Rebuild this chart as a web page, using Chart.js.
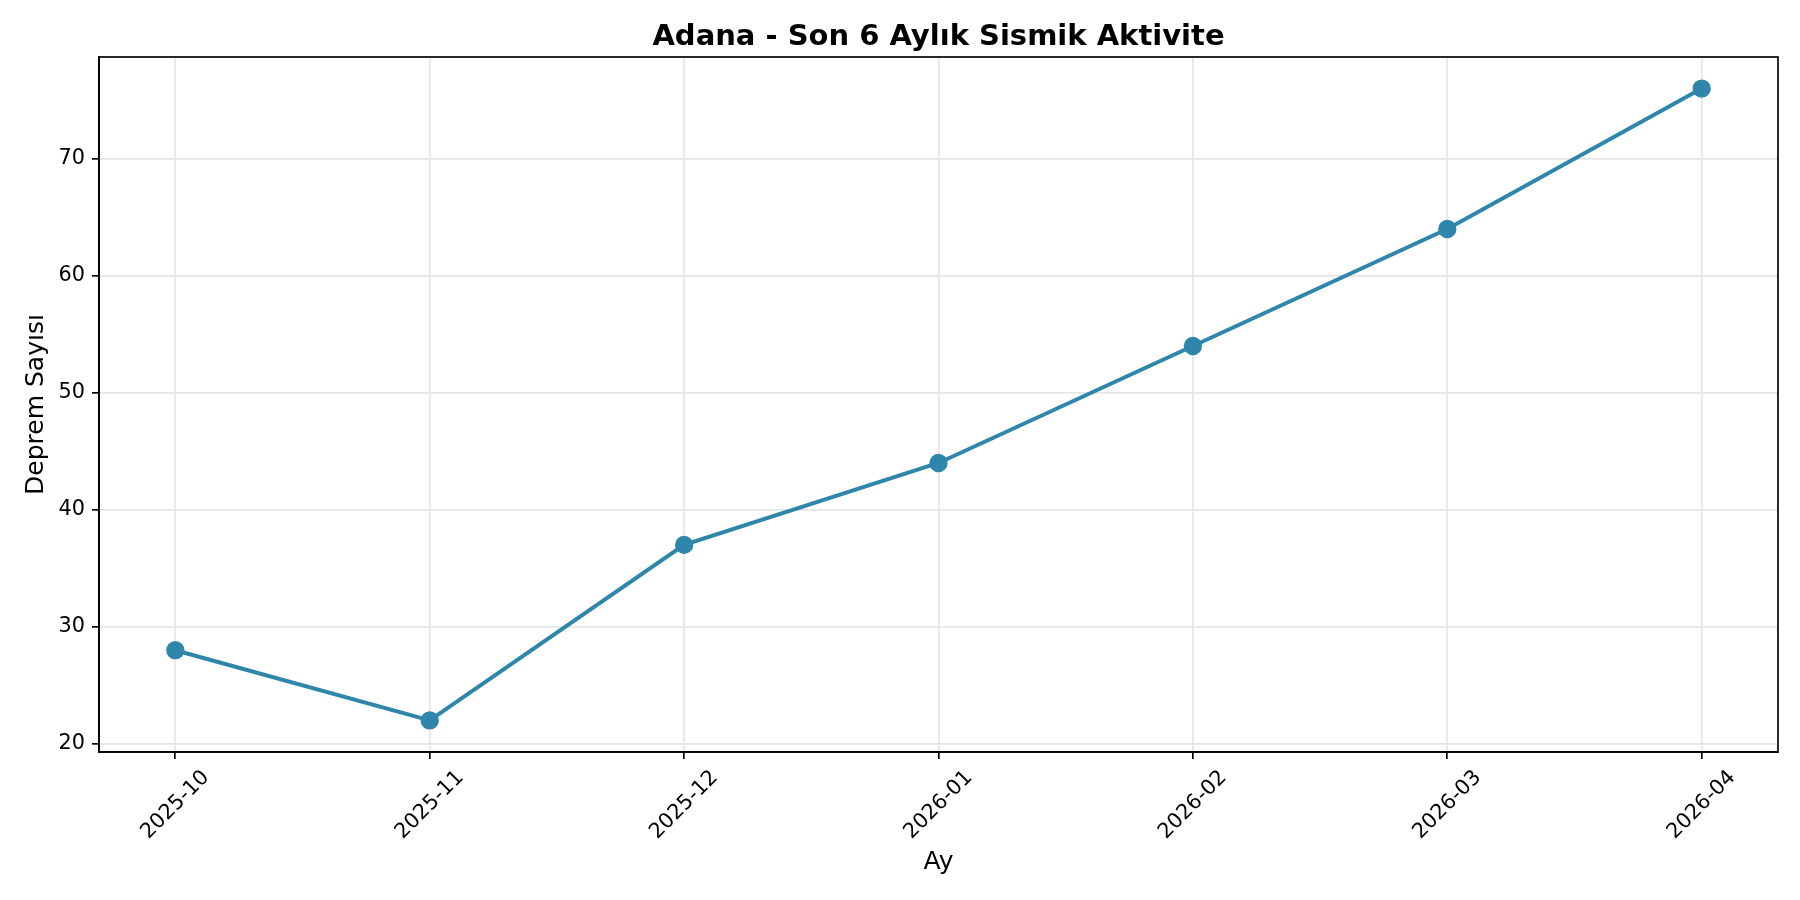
<!DOCTYPE html>
<html lang="tr">
<head>
    <meta charset="UTF-8">
    <title>Adana - Son 6 Aylık Sismik Aktivite</title>
    <style>
        body { margin: 0; background: #fff; }
        #chart { display: block; }
    </style>
</head>
<body>
    <canvas id="chart" width="1800" height="900"></canvas>
    <script src="https://cdn.jsdelivr.net/npm/chart.js"></script>
    <script>
        const months = ['2025-10', '2025-11', '2025-12', '2026-01', '2026-02', '2026-03', '2026-04'];
        const quakeCounts = [28, 22, 37, 44, 54, 64, 76];
        const yTicks = [20, 30, 40, 50, 60, 70];

        const titleText = 'Adana - Son 6 Aylık Sismik Aktivite';
        const xTitle = 'Ay';
        const yTitle = 'Deprem Sayısı';

        const lineColor = '#2E86AB';
        const font = "'DejaVu Sans', sans-serif";

        // matplotlib-style texts: title, axis labels, rotated month labels
        const textPlugin = {
            id: 'mplText',
            afterDraw(chart) {
                const c = chart.ctx;
                const area = chart.chartArea;
                const xs = chart.scales.x;
                const cx = (area.left + area.right) / 2;
                const cy = (area.top + area.bottom) / 2;

                c.save();
                // frame
                c.strokeStyle = '#000';
                c.lineWidth = 1.67;
                c.strokeRect(area.left, area.top, area.right - area.left, area.bottom - area.top);

                c.fillStyle = '#000';
                c.textAlign = 'center';
                c.textBaseline = 'alphabetic';
                c.font = 'bold 29px ' + font;
                c.fillText(titleText, cx, 45);

                c.font = '25px ' + font;
                c.fillText(xTitle, cx, 869);

                c.save();
                c.translate(43, cy);
                c.rotate(-Math.PI / 2);
                c.fillText(yTitle, 0, 0);
                c.restore();

                c.font = '20.8px ' + font;
                c.textBaseline = 'middle';
                months.forEach((m, i) => {
                    const x = xs.getPixelForValue(i);
                    c.save();
                    c.translate(x, area.bottom + 53);
                    c.rotate(-Math.PI / 4);
                    c.fillText(m, 0, 0);
                    c.restore();
                });
                c.restore();
            }
        };

        const ctx = document.getElementById('chart').getContext('2d');
        const chart = new Chart(ctx, {
            type: 'line',
            data: {
                datasets: [{
                    data: quakeCounts.map((v, i) => ({ x: i, y: v })),
                    borderColor: lineColor,
                    backgroundColor: lineColor,
                    borderWidth: 4,
                    pointRadius: 8.3,
                    pointBorderWidth: 1.7,
                    pointBackgroundColor: lineColor,
                    pointBorderColor: lineColor,
                    tension: 0,
                    fill: false
                }]
            },
            options: {
                responsive: false,
                animation: false,
                devicePixelRatio: 1,
                layout: { padding: { top: 57, right: 22, left: 0, bottom: 0 } },
                plugins: {
                    legend: { display: false },
                    tooltip: { enabled: false }
                },
                scales: {
                    x: {
                        type: 'linear',
                        min: -0.3,
                        max: 6.3,
                        afterBuildTicks: (scale) => {
                            scale.ticks = months.map((m, i) => ({ value: i }));
                        },
                        afterFit: (scale) => { scale.height = 148; },
                        ticks: { display: false },
                        grid: {
                            color: '#e6e6e6',
                            lineWidth: 1.67,
                            tickLength: 7,
                            tickColor: '#000',
                            tickWidth: 1.67
                        },
                        border: { display: true, color: '#000', width: 1.67 }
                    },
                    y: {
                        min: 19.3,
                        max: 78.7,
                        afterBuildTicks: (scale) => {
                            scale.ticks = yTicks.map(v => ({ value: v }));
                        },
                        afterFit: (scale) => { scale.width = 99; },
                        ticks: {
                            color: '#000',
                            padding: 7,
                            font: { family: font, size: 20.8 }
                        },
                        grid: {
                            color: '#e6e6e6',
                            lineWidth: 1.67,
                            tickLength: 7,
                            tickColor: '#000',
                            tickWidth: 1.67
                        },
                        border: { display: true, color: '#000', width: 1.67 }
                    }
                }
            },
            plugins: [textPlugin]
        });
    </script>
</body>
</html>
